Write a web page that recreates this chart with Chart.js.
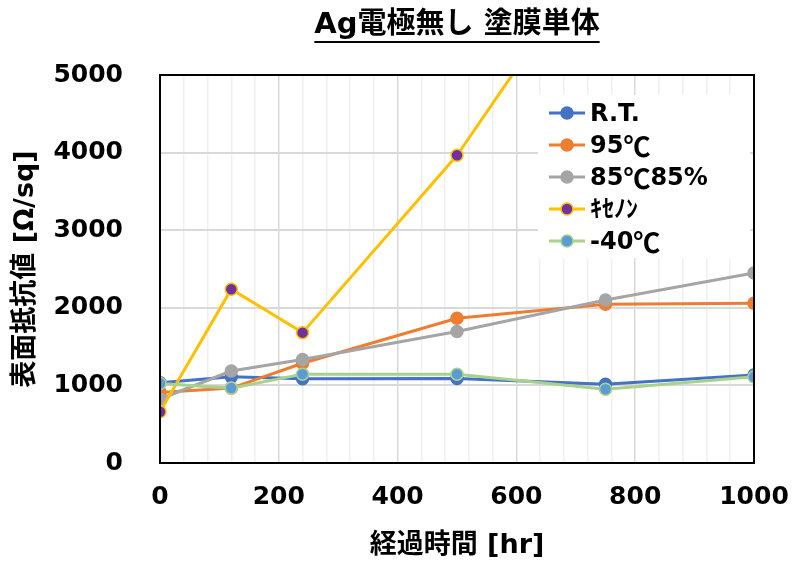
<!DOCTYPE html>
<html>
<head>
<meta charset="utf-8">
<script src="https://cdn.jsdelivr.net/npm/chart.js@4"></script>
<style>
  html, body { margin: 0; padding: 0; background: #fff; }
  #wrap { width: 800px; height: 570px; }
</style>
</head>
<body>
<div id="wrap"><canvas id="lineChart" width="800" height="570"></canvas></div>
<script>
// Chart Data
const hours = [0, 120, 240, 500, 750, 1000];
const roomTemp = [1035, 1110, 1085, 1090, 1015, 1135];
const heat95 = [910, 965, 1285, 1865, 2045, 2060];
const damp8585 = [825, 1185, 1335, 1695, 2100, 2450];
const xenon = [660, 2240, 1680, 3965, 6750, null];
const cold40 = [1025, 965, 1145, 1145, 950, 1110];

const seriesNames = ['R.T.', '95℃', '85℃85%', 'ｷｾﾉﾝ', '-40℃'];
const yTicks = [0, 1000, 2000, 3000, 4000, 5000];
const xTicks = [0, 200, 400, 600, 800, 1000];

const titleText = 'Ag電極無し 塗膜単体';
const xTitle = '経過時間 [hr]';
const yTitle = '表面抵抗値 [Ω/sq]';

const LATIN = '"DejaVu Sans", "Noto Sans CJK JP", sans-serif';
const CJK = '"Noto Sans CJK JP", "DejaVu Sans", sans-serif';

function pts(values) {
    return hours.map((h, i) => ({ x: h, y: values[i] }));
}

function makeSet(i, values, line, fill, edge) {
    return {
        label: seriesNames[i],
        data: pts(values),
        borderColor: line,
        backgroundColor: fill,
        pointBackgroundColor: fill,
        pointBorderColor: edge,
        pointBorderWidth: 1.5,
        pointRadius: 6,
        borderWidth: 3,
        tension: 0,
        order: 5 - i
    };
}

// draws a label, ℃ taken from the CJK font like the original
function mixedText(ctx, text, x, y, size) {
    const parts = text.split(/(℃)/);
    parts.forEach(p => {
        if (!p) return;
        ctx.font = 'bold ' + (p === '℃' ? size + 3 : size) + 'px ' + (p === '℃' ? CJK : LATIN);
        ctx.fillText(p, x, y);
        x += ctx.measureText(p).width;
    });
}

// title with underline, box border and legend
const decor = {
    id: 'decor',
    afterDatasetsDraw(chart) {
        const ctx = chart.ctx;
        const a = chart.chartArea;
        ctx.save();

        // plot frame
        ctx.strokeStyle = '#000';
        ctx.lineWidth = 2;
        ctx.strokeRect(a.left, a.top, a.right - a.left, a.bottom - a.top);

        // legend box
        ctx.fillStyle = '#fff';
        ctx.fillRect(538, 95, 212, 163);
        chart.data.datasets.forEach((ds, i) => {
            const y = 113 + i * 32;
            ctx.strokeStyle = ds.borderColor;
            ctx.lineWidth = 3;
            ctx.beginPath();
            ctx.moveTo(549, y);
            ctx.lineTo(585, y);
            ctx.stroke();
            ctx.beginPath();
            ctx.arc(567, y, 6, 0, Math.PI * 2);
            ctx.fillStyle = ds.pointBackgroundColor;
            ctx.fill();
            ctx.lineWidth = 1.5;
            ctx.strokeStyle = ds.pointBorderColor;
            ctx.stroke();
            ctx.fillStyle = '#000';
            ctx.textBaseline = 'middle';
            ctx.textAlign = 'left';
            mixedText(ctx, ds.label, 590, y + 2, 24);
        });

        // title
        ctx.font = 'bold 29px ' + LATIN;
        ctx.fillStyle = '#000';
        ctx.textAlign = 'center';
        ctx.textBaseline = 'middle';
        const cx = (a.left + a.right) / 2;
        ctx.fillText(titleText, cx, 25);
        const w = ctx.measureText(titleText).width;
        ctx.fillRect(cx - w / 2, 41, w, 2);
        ctx.restore();
    }
};

function initChart() {
    const ctx = document.getElementById('lineChart').getContext('2d');

    new Chart(ctx, {
        type: 'line',
        data: {
            datasets: [
                makeSet(0, roomTemp, '#4472C4', '#4472C4', '#4472C4'),
                makeSet(1, heat95, '#ED7D31', '#ED7D31', '#ED7D31'),
                makeSet(2, damp8585, '#A5A5A5', '#A5A5A5', '#A5A5A5'),
                makeSet(3, xenon, '#FFC000', '#7030A0', '#FFC000'),
                makeSet(4, cold40, '#A9D18E', '#5B9BD5', '#A9D18E')
            ]
        },
        options: {
            responsive: false,
            animation: false,
            layout: {
                padding: { top: 75, right: 46, left: 0, bottom: 0 }
            },
            plugins: {
                legend: { display: false },
                tooltip: { enabled: false }
            },
            scales: {
                x: {
                    type: 'linear',
                    min: 0,
                    max: 1000,
                    afterFit: s => {
                        s.height = 107;
                        s.paddingLeft = 0;
                        s.paddingRight = 0;
                    },
                    afterBuildTicks: s => {
                        const t = [];
                        for (let v = 0; v <= 1000; v += 40) t.push({ value: v });
                        xTicks.forEach(v => { if (!t.some(k => k.value === v)) t.push({ value: v }); });
                        t.sort((p, q) => p.value - q.value);
                        s.ticks = t;
                    },
                    ticks: {
                        autoSkip: false,
                        maxRotation: 0,
                        padding: 19,
                        color: '#000',
                        font: { family: LATIN, size: 25, weight: 'bold' },
                        callback: v => xTicks.includes(v) ? String(v) : ''
                    },
                    grid: {
                        drawTicks: false,
                        lineWidth: 1.5,
                        color: c => (c.tick && xTicks.includes(c.tick.value)) ? '#d9d9d9' : '#f0f0f0'
                    },
                    border: { color: '#000', width: 2 },
                    title: {
                        display: true,
                        text: xTitle,
                        color: '#000',
                        font: { family: LATIN, size: 27, weight: 'bold' },
                        padding: { top: 0, bottom: 8 }
                    }
                },
                y: {
                    min: 0,
                    max: 5000,
                    afterFit: s => {
                        s.width = 160;
                        s.paddingTop = 0;
                        s.paddingBottom = 0;
                    },
                    afterBuildTicks: s => { s.ticks = yTicks.map(v => ({ value: v })); },
                    ticks: {
                        padding: 37,
                        color: '#000',
                        font: { family: LATIN, size: 25, weight: 'bold' },
                        callback: v => String(v)
                    },
                    grid: {
                        drawTicks: false,
                        lineWidth: 2,
                        color: '#d9d9d9'
                    },
                    border: { color: '#000', width: 2 },
                    title: {
                        display: true,
                        text: yTitle,
                        color: '#000',
                        font: { family: LATIN, size: 27, weight: 'bold' },
                        padding: { top: 10, bottom: 0 }
                    }
                }
            }
        },
        plugins: [decor]
    });
}

initChart();
</script>
</body>
</html>
